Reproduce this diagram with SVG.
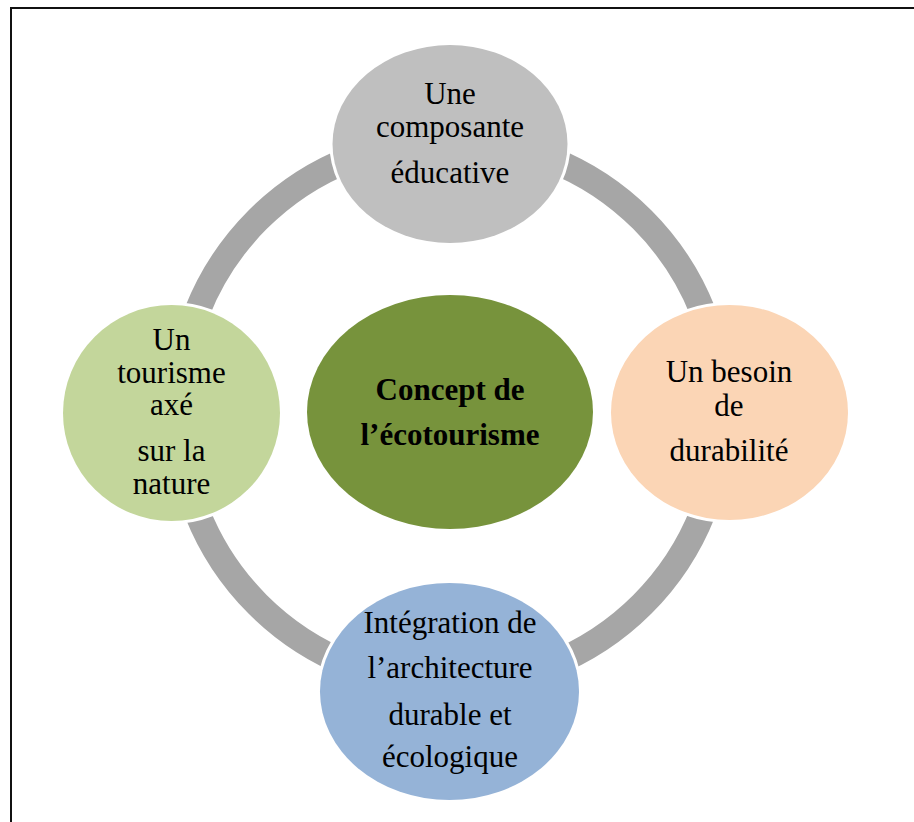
<svg xmlns="http://www.w3.org/2000/svg" width="914" height="822" viewBox="0 0 914 822">
<style>
.node{stroke:#fff;stroke-width:6;paint-order:stroke}
.t{font-family:"Liberation Serif","Times New Roman",serif;font-size:31px;fill:#000;text-anchor:middle}
.b{font-weight:bold}
</style>
<rect x="0" y="0" width="914" height="822" fill="#fff"/>
<rect x="11" y="8" width="1000" height="1000" fill="none" stroke="#111" stroke-width="2"/>
<g id="connectors">
<circle cx="450" cy="412" r="272" fill="none" stroke="#A6A6A6" stroke-width="26"/>
</g>
<g id="center">
<ellipse class="node" cx="450" cy="412" rx="143" ry="117" fill="#77933C"/>
<text class="t b" x="450" y="400">Concept de</text>
<text class="t b" x="450" y="445">l’écotourisme</text>
</g>
<g id="top">
<ellipse class="node" cx="450" cy="144" rx="117.5" ry="99" fill="#BFBFBF"/>
<text class="t" x="450" y="104">Une</text>
<text class="t" x="450" y="137">composante</text>
<text class="t" x="450" y="183">éducative</text>
</g>
<g id="right">
<ellipse class="node" cx="729.5" cy="412.5" rx="118.5" ry="107.5" fill="#FBD5B5"/>
<text class="t" x="729" y="382">Un besoin</text>
<text class="t" x="729" y="416">de</text>
<text class="t" x="729" y="461">durabilité</text>
</g>
<g id="left">
<ellipse class="node" cx="171.5" cy="413" rx="108.5" ry="108" fill="#C3D69B"/>
<text class="t" x="171.5" y="350">Un</text>
<text class="t" x="171.5" y="383">tourisme</text>
<text class="t" x="171.5" y="415">axé</text>
<text class="t" x="171.5" y="461">sur la</text>
<text class="t" x="171.5" y="494">nature</text>
</g>
<g id="bottom">
<ellipse class="node" cx="449.5" cy="691.5" rx="129.5" ry="108.5" fill="#95B3D7"/>
<text class="t" x="450" y="633">Intégration de</text>
<text class="t" x="450" y="678">l’architecture</text>
<text class="t" x="450" y="725">durable et</text>
<text class="t" x="450" y="767">écologique</text>
</g>
</svg>
